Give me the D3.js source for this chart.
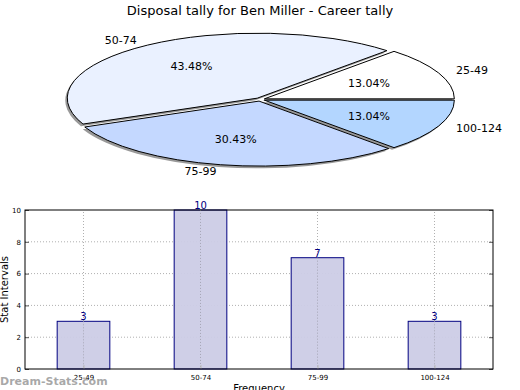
<!DOCTYPE html>
<html>
<head>
<meta charset="utf-8">
<script src="https://cdn.jsdelivr.net/npm/d3@7"></script>
<style>
  body { margin: 0; background: #fff; }
  svg { font-family: "DejaVu Sans", sans-serif; }
</style>
</head>
<body>
<div id="chart"></div>
<script>
// data
var categories = ["25-49", "50-74", "75-99", "100-124"];
var counts = [3, 10, 7, 3];
var pieColors = ["#ffffff", "#eaf1ff", "#c4d8ff", "#b3d6ff"];
var yTicks = [0, 2, 4, 6, 8, 10];

var width = 520, height = 390;

var svg = d3.select("#chart").append("svg")
  .attr("width", width)
  .attr("height", height);

// title
svg.append("text")
  .attr("x", 260).attr("y", 15)
  .attr("text-anchor", "middle")
  .attr("font-size", 13)
  .text("Disposal tally for Ben Miller - Career tally");

//******************
// Pie (squashed, exploded, with shadow)
//******************
var cx = 260, cy = 99.5, rx = 190, ry = 65;
var R = 100, explode = 0.025;
var total = d3.sum(counts);

var pie = d3.pie().sort(null)
  .startAngle(Math.PI / 2)
  .endAngle(Math.PI / 2 - 2 * Math.PI);
var arcs = pie(counts);
var arc = d3.arc().innerRadius(0).outerRadius(R);

var pieG = svg.append("g")
  .attr("transform", `translate(${cx},${cy}) scale(${rx / R},${ry / R})`);

function mid(d) { return (d.startAngle + d.endAngle) / 2; }
function offset(d) {
  var a = mid(d);
  return [explode * R * Math.sin(a), -explode * R * Math.cos(a)];
}

// shadows first
pieG.selectAll(".shadow")
  .data(arcs)
  .join("path")
  .attr("class", "shadow")
  .attr("d", arc)
  .attr("fill", "#808080")
  .attr("fill-opacity", 0.8)
  .attr("transform", (d) => {
    var o = offset(d);
    return `translate(${o[0] - 2 * R / rx},${o[1] + 2.2 * R / ry})`;
  });

pieG.selectAll(".slice")
  .data(arcs)
  .join("path")
  .attr("class", "slice")
  .attr("d", arc)
  .attr("fill", (d, i) => pieColors[i])
  .attr("stroke", "#000")
  .attr("stroke-width", 1)
  .attr("vector-effect", "non-scaling-stroke")
  .attr("transform", (d) => {
    var o = offset(d);
    return `translate(${o[0]},${o[1]})`;
  });

function piePos(d, k) {
  var a = mid(d);
  return [cx + rx * (k + explode) * Math.sin(a), cy - ry * (k + explode) * Math.cos(a)];
}

svg.append("g").selectAll("text")
  .data(arcs)
  .join("text")
  .attr("x", (d) => piePos(d, 1.1)[0])
  .attr("y", (d) => piePos(d, 1.1)[1])
  .attr("dy", "0.35em")
  .attr("text-anchor", (d) => (Math.sin(mid(d)) > 0 ? "start" : "end"))
  .attr("font-size", 11)
  .text((d, i) => categories[i]);

svg.append("g").selectAll("text")
  .data(arcs)
  .join("text")
  .attr("x", (d) => piePos(d, 0.6)[0])
  .attr("y", (d) => piePos(d, 0.6)[1])
  .attr("dy", "0.35em")
  .attr("text-anchor", "middle")
  .attr("font-size", 11)
  .text((d) => ((d.value / total) * 100).toFixed(2) + "%");

//******************
// Bar chart
//******************
var margin = { left: 25, right: 27, top: 210, bottom: 21 };
var x = d3.scalePoint()
  .domain(categories)
  .range([margin.left, width - margin.right])
  .padding(0.5);
var barW = x.step() * 0.45;
var y = d3.scaleLinear()
  .domain([0, 10])
  .range([height - margin.bottom, margin.top]);

var plot = svg.append("g");

// grid
plot.append("g").selectAll("line")
  .data(yTicks.slice(1, -1))
  .join("line")
  .attr("x1", margin.left).attr("x2", width - margin.right)
  .attr("y1", (d) => y(d)).attr("y2", (d) => y(d))
  .attr("stroke", "#b0b0b0")
  .attr("stroke-dasharray", "1,2");

plot.append("g").selectAll("line")
  .data(categories)
  .join("line")
  .attr("x1", (d) => x(d)).attr("x2", (d) => x(d))
  .attr("y1", y(0)).attr("y2", y(10))
  .attr("stroke", "#b0b0b0")
  .attr("stroke-dasharray", "1,2");

// bars
plot.append("g").selectAll("rect")
  .data(counts)
  .join("rect")
  .attr("x", (d, i) => x(categories[i]) - barW / 2)
  .attr("y", (d) => y(d))
  .attr("width", barW)
  .attr("height", (d) => y(0) - y(d))
  .attr("fill", "#ccccE6")
  .attr("fill-opacity", 0.95)
  .attr("stroke", "#000080")
  .attr("stroke-width", 1);

// redraw vertical grid over bars (matplotlib draws grid on top)
plot.append("g").selectAll("line")
  .data(categories)
  .join("line")
  .attr("x1", (d) => x(d)).attr("x2", (d) => x(d))
  .attr("y1", (d, i) => y(counts[i])).attr("y2", y(0))
  .attr("stroke", "#a8a8b8")
  .attr("stroke-dasharray", "1,2");

// value labels
plot.append("g").selectAll("text")
  .data(counts)
  .join("text")
  .attr("x", (d, i) => x(categories[i]))
  .attr("y", (d) => y(d) - 1)
  .attr("text-anchor", "middle")
  .attr("font-size", 10)
  .attr("fill", "#000080")
  .text((d) => d);

// axes
var yAxisL = d3.axisLeft(y).tickValues(yTicks).tickSize(-4).tickPadding(4);
var yAxisR = d3.axisRight(y).tickValues(yTicks).tickSize(-4).tickFormat("");
var xAxisB = d3.axisBottom(x).tickSize(-4).tickPadding(6);

plot.append("g")
  .attr("transform", `translate(${margin.left},0)`)
  .call(yAxisL)
  .call((g) => g.select(".domain").remove())
  .call((g) => g.selectAll(".tick line").attr("stroke", "#555"))
  .call((g) => g.selectAll("text").attr("font-size", 7).attr("font-family", "DejaVu Sans"));

plot.append("g")
  .attr("transform", `translate(${width - margin.right},0)`)
  .call(yAxisR)
  .call((g) => g.select(".domain").remove())
  .call((g) => g.selectAll(".tick line").attr("stroke", "#555"));

plot.append("g")
  .attr("transform", `translate(0,${y(0)})`)
  .call(xAxisB)
  .call((g) => g.select(".domain").remove())
  .call((g) => g.selectAll(".tick line").attr("stroke", "#bbb"))
  .call((g) => g.selectAll("text").attr("font-size", 7).attr("font-family", "DejaVu Sans"));

// frame
plot.append("rect")
  .attr("x", margin.left).attr("y", margin.top)
  .attr("width", width - margin.left - margin.right)
  .attr("height", height - margin.top - margin.bottom)
  .attr("fill", "none")
  .attr("stroke", "#000")
  .attr("stroke-width", 1);

// axis labels
svg.append("text")
  .attr("transform", `translate(8,${(y(0) + y(10)) / 2}) rotate(-90)`)
  .attr("text-anchor", "middle")
  .attr("font-size", 10)
  .text("Stat Intervals");

svg.append("text")
  .attr("x", (margin.left + width - margin.right) / 2)
  .attr("y", 392)
  .attr("text-anchor", "middle")
  .attr("font-size", 10)
  .text("Frequency");

// watermark
svg.append("text")
  .attr("x", 0).attr("y", 385)
  .attr("font-size", 11)
  .attr("font-weight", "bold")
  .attr("fill", "#999")
  .attr("fill-opacity", 0.85)
  .text("Dream-Stats.com");
</script>
</body>
</html>
